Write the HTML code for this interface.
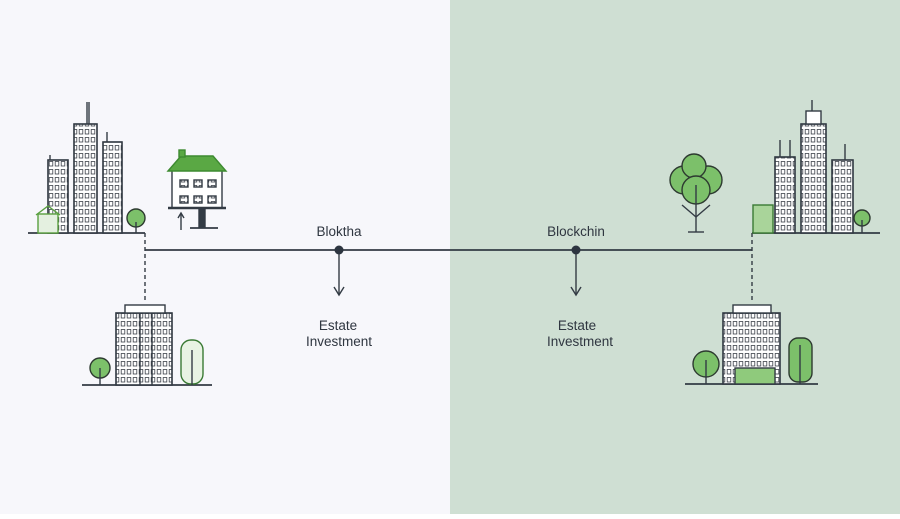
<!DOCTYPE html>
<html><head><style>
body{margin:0;width:900px;height:514px;overflow:hidden;font-family:"Liberation Sans",sans-serif}
</style></head><body>
<svg width="900" height="514" xmlns="http://www.w3.org/2000/svg">
<defs>
<pattern id="win" width="6" height="8" patternUnits="userSpaceOnUse"><rect x="1.2" y="1.5" width="3.6" height="4.5" fill="none" stroke="#3a4048" stroke-width="0.8"/></pattern>
</defs>
<rect width="450" height="514" fill="#f7f7fb"/>
<rect x="450" width="450" height="514" fill="#cfdfd3"/>
<g stroke="#333b44" stroke-width="1.4" fill="none">
<line x1="145" y1="250" x2="752" y2="250" stroke-width="1.8"/>
<line x1="145" y1="233" x2="145" y2="300" stroke-dasharray="4,3"/>
<line x1="752" y1="233" x2="752" y2="300" stroke-dasharray="4,3"/>
<line x1="339" y1="250" x2="339" y2="294"/><polyline points="334,287 339,295 344,287"/>
<line x1="576" y1="250" x2="576" y2="294"/><polyline points="571,287 576,295 581,287"/>
<line x1="28" y1="233" x2="145" y2="233" stroke-width="1.8"/>
<rect x="48" y="160" width="20" height="73" fill="#fff"/><rect x="48" y="160" width="20" height="73" fill="url(#win)"/>
<line x1="50" y1="160" x2="50" y2="155"/>
<rect x="74" y="124" width="23" height="109" fill="#fff"/><rect x="74" y="124" width="23" height="109" fill="url(#win)"/>
<line x1="87" y1="124" x2="87" y2="102"/><line x1="89" y1="124" x2="89" y2="102"/>
<rect x="103" y="142" width="19" height="91" fill="#fff"/><rect x="103" y="142" width="19" height="91" fill="url(#win)"/>
<line x1="107" y1="142" x2="107" y2="132"/>
<rect x="38" y="214" width="20" height="19" fill="#e4f0e0" stroke="#5aa040"/><polyline points="36,215 48,206 60,215" stroke="#5aa040"/>
<circle cx="136" cy="218" r="9" fill="#7cc06a" stroke="#2d3a30"/><line x1="136" y1="222" x2="136" y2="233"/>
<rect x="172" y="168" width="50" height="40" fill="#fff"/>
<polygon points="168,171 181,156 213,156 226,171" fill="#5aa844" stroke="#3d8a30"/>
<rect x="179" y="150" width="6" height="7" fill="#5aa844" stroke="#3d8a30"/>
<g fill="url(#win)"><rect x="180" y="180" width="8" height="7"/><rect x="194" y="180" width="8" height="7"/><rect x="208" y="180" width="8" height="7"/><rect x="180" y="196" width="8" height="7"/><rect x="194" y="196" width="8" height="7"/><rect x="208" y="196" width="8" height="7"/></g>
<line x1="168" y1="208" x2="226" y2="208" stroke-width="2.4"/>
<rect x="199" y="209" width="6" height="18" fill="#333b44"/>
<line x1="190" y1="228" x2="218" y2="228" stroke-width="1.8"/>
<line x1="181" y1="230" x2="181" y2="214"/><polyline points="178,218 181,213 184,218"/>
<line x1="82" y1="385" x2="212" y2="385" stroke-width="1.8"/>
<rect x="116" y="313" width="56" height="72" fill="#fff"/><rect x="116" y="313" width="56" height="72" fill="url(#win)"/>
<rect x="125" y="305" width="40" height="8" fill="#fff"/>
<line x1="140" y1="313" x2="140" y2="385"/><line x1="152" y1="313" x2="152" y2="385"/>
<circle cx="100" cy="368" r="10" fill="#7cc06a" stroke="#2d3a30"/><line x1="100" y1="368" x2="100" y2="385"/>
<rect x="181" y="340" width="22" height="44" rx="10" fill="#e8f3e3" stroke="#3a7a34"/><line x1="192" y1="350" x2="192" y2="385"/>
<line x1="752" y1="233" x2="880" y2="233" stroke-width="1.8"/>
<rect x="753" y="205" width="20" height="28" fill="#a9d49a" stroke="#3a7a34"/>
<rect x="775" y="157" width="20" height="76" fill="#fff"/><rect x="775" y="157" width="20" height="76" fill="url(#win)"/>
<line x1="780" y1="157" x2="780" y2="140"/><line x1="790" y1="157" x2="790" y2="140"/>
<rect x="801" y="124" width="25" height="109" fill="#fff"/><rect x="801" y="124" width="25" height="109" fill="url(#win)"/>
<rect x="806" y="111" width="15" height="13" fill="#fff"/><line x1="812" y1="111" x2="812" y2="100"/>
<rect x="832" y="160" width="21" height="73" fill="#fff"/><rect x="832" y="160" width="21" height="73" fill="url(#win)"/>
<line x1="845" y1="160" x2="845" y2="144"/>
<circle cx="862" cy="218" r="8" fill="#7cc06a" stroke="#2d3a30"/><line x1="862" y1="220" x2="862" y2="233"/>
<g fill="#7cc06a" stroke="#2d3a30"><circle cx="684" cy="180" r="14"/><circle cx="708" cy="180" r="14"/><circle cx="694" cy="166" r="12"/><circle cx="696" cy="190" r="14"/></g>
<line x1="696" y1="185" x2="696" y2="232"/><polyline points="682,205 696,217 710,205"/><line x1="688" y1="232" x2="704" y2="232"/>
<line x1="685" y1="384" x2="818" y2="384" stroke-width="1.8"/>
<rect x="723" y="313" width="57" height="71" fill="#fff"/><rect x="723" y="313" width="57" height="71" fill="url(#win)"/>
<rect x="733" y="305" width="38" height="8" fill="#fff"/>
<rect x="735" y="368" width="40" height="16" fill="#8fca7c"/>
<circle cx="706" cy="364" r="13" fill="#7cc06a" stroke="#2d3a30"/><line x1="706" y1="360" x2="706" y2="384"/>
<rect x="789" y="338" width="23" height="44" rx="9" fill="#7cc06a" stroke="#2d3a30"/><line x1="800" y1="345" x2="800" y2="384"/>
</g>
<circle cx="339" cy="250" r="4.5" fill="#2d3540"/>
<circle cx="576" cy="250" r="4.5" fill="#2d3540"/>
<g font-size="13.5" fill="#2f3640" text-anchor="middle">
<text x="339" y="236">Bloktha</text>
<text x="576" y="236">Blockchin</text>
<text x="338" y="330">Estate</text><text x="339" y="346">Investment</text>
<text x="577" y="330">Estate</text><text x="580" y="346">Investment</text>
</g>
</svg>
</body></html>
